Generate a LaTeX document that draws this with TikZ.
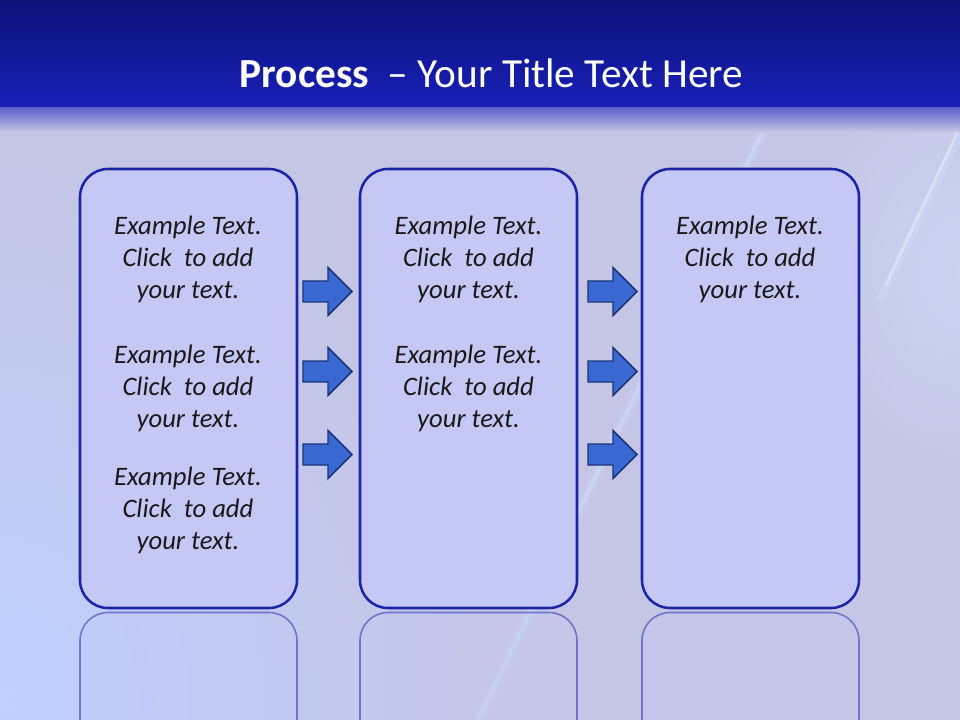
\documentclass[tikz,border=0pt]{standalone}
\usepackage{fontspec}
\setmainfont{Carlito}
\usetikzlibrary{fadings}
\definecolor{bannerTop}{HTML}{0C1278}
\definecolor{bannerBot}{HTML}{1820B8}
\definecolor{bgLav}{HTML}{C5C6E6}
\definecolor{bgBlue}{HTML}{BFD0FF}
\definecolor{boxFill}{HTML}{C5C8F5}
\definecolor{boxLine}{HTML}{1C24A6}
\definecolor{arrFill}{HTML}{3A68D2}
\definecolor{arrLine}{HTML}{1A3478}
\definecolor{streak}{HTML}{D4E4FF}
\tikzfading[name=glowfade, inner color=transparent!0, outer color=transparent!100]
\tikzset{
  procbox/.style={draw=boxLine, fill=boxFill, line width=1.9pt, rounded corners=21pt,
    minimum width=162.75pt, minimum height=329.25pt, inner sep=0pt},
  reflbox/.style={draw=boxLine, draw opacity=0.5, fill=boxFill, fill opacity=0.3, line width=1.2pt,
    rounded corners=21pt, minimum width=162.75pt, minimum height=329.25pt, inner sep=0pt},
  bodytxt/.style={font=\fontsize{20}{24}\selectfont\itshape, align=center, text=black!90, inner sep=0pt},
  blockarr/.style={draw=arrLine, fill=arrFill, line width=1.1pt, line join=miter},
  titletxt/.style={font=\fontsize{31}{36}\selectfont, text=white, inner sep=0pt, anchor=base}
}
\newcommand\extext[3]{%
  \node[bodytxt] (#1) at (#2,#3) {Example Text.\\Click\ \ to add\\your text.};
}
\newcommand\blockarrow[2]{%
  \draw[blockarr] (#1,{#2-10.5}) -- ({#1+25},{#2-10.5}) -- ({#1+25},{#2-24}) -- ({#1+49},#2)
    -- ({#1+25},{#2+24}) -- ({#1+25},{#2+10.5}) -- (#1,{#2+10.5}) -- cycle;
}
\begin{document}
\begin{tikzpicture}[x=0.75pt,y=-0.75pt]
\useasboundingbox (0,0) rectangle (960,720);
\clip (0,0) rectangle (960,720);
% background
\fill[bgLav] (0,100) rectangle (960,720);
\fill[bgBlue, path fading=glowfade] (-500,150) rectangle (480,1250);
\fill[streak, opacity=0.45, path fading=glowfade] (800,60) rectangle (1120,480);
% streaks
\draw[streak, line width=9pt, opacity=0.12] (772,112) -- (478,720);
\draw[streak, line width=4pt, opacity=0.25] (772,112) -- (478,720);
\draw[streak, line width=1.5pt, opacity=0.35] (772,112) -- (478,720);
\draw[streak, line width=6pt, opacity=0.3] (968,118) -- (880,300);
\draw[white, line width=2pt, opacity=0.3] (964,118) -- (886,285);
% banner
\shade[top color=bannerTop, bottom color=bannerBot] (0,0) rectangle (960,108);
\shade[top color=bannerBot!60!bgLav, bottom color=bgLav] (0,108) rectangle (960,132);
\node[titletxt] (title) at (491.5,88) {\textbf{Process}\ \ -- Your Title Text Here};
% reflections
\node[reflbox] (r1) at (188.5,832) {};
\node[reflbox] (r2) at (468.5,832) {};
\node[reflbox] (r3) at (750.5,832) {};
% boxes
\node[procbox] (b1) at (188.5,388.5) {};
\node[procbox] (b2) at (468.5,388.5) {};
\node[procbox] (b3) at (750.5,388.5) {};
% texts
\extext{t11}{188}{259}
\extext{t12}{188}{388}
\extext{t13}{188}{510}
\extext{t21}{468.5}{259}
\extext{t22}{468.5}{388}
\extext{t31}{750}{259}
% arrows
\blockarrow{303}{291.5}
\blockarrow{303}{371.5}
\blockarrow{303}{454.5}
\blockarrow{588}{291.5}
\blockarrow{588}{371.5}
\blockarrow{588}{454.5}
\end{tikzpicture}
\end{document}
